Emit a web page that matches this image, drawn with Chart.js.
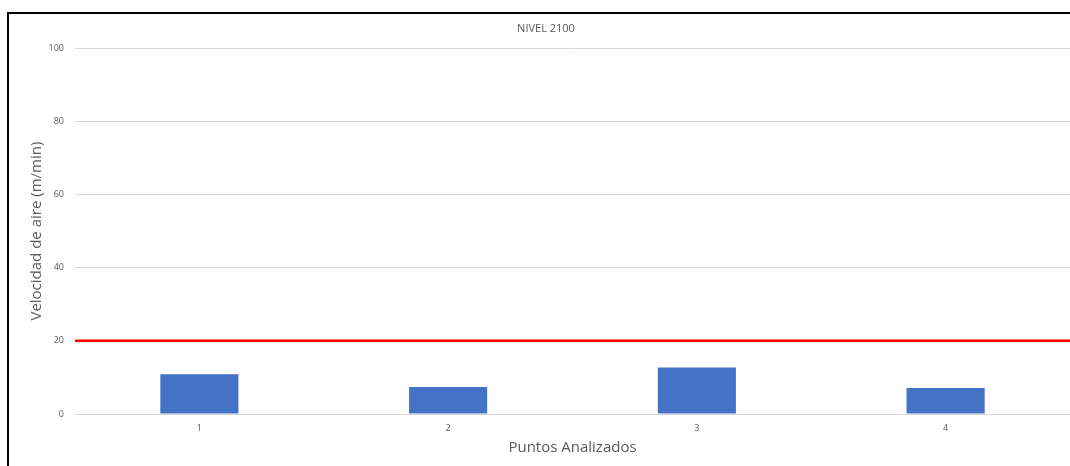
<!DOCTYPE html>
<html>
<head>
<meta charset="utf-8">
<script src="https://cdn.jsdelivr.net/npm/chart.js@4/dist/chart.umd.min.js"></script>
<style>
  html, body { margin: 0; padding: 0; background: #fff; }
  #wrap { position: relative; width: 1070px; height: 466px; overflow: hidden; }
  #marco { position: absolute; left: 7px; top: 12px; right: -10px; bottom: -10px;
           border-left: 2px solid #000; border-top: 2px solid #000; pointer-events: none; }
</style>
</head>
<body>
<div id="wrap">
  <canvas id="grafico" width="1070" height="466"></canvas>
  <div id="marco"></div>
</div>
<script>
// puntos medidos en el nivel 2100
let puntos = ['1', '2', '3', '4']
let velocidades = [10.9, 7.4, 12.7, 7.1]
// velocidad minima de referencia (m/min)
let limite = 20
let ticksY = [0, 20, 40, 60, 80, 100]

// la linea roja cruza todo el ancho del grafico
let lineaLimite = [
    { x: 0.5, y: limite },
    { x: puntos.length + 0.5, y: limite }
]

let gris = '#595959'

new Chart(document.getElementById('grafico'), {
    data: {
        labels: puntos,
        datasets: [{
            type: 'bar',
            data: velocidades,
            backgroundColor: '#4472C4',
            borderWidth: 0,
            grouped: false,
            categoryPercentage: 1,
            barPercentage: 0.314,
            order: 2
        }, {
            type: 'scatter',
            data: lineaLimite,
            xAxisID: 'xLim',
            showLine: true,
            borderColor: '#FF0000',
            borderWidth: 2.5,
            pointRadius: 0,
            order: 1
        }]
    },
    options: {
        responsive: false,
        animation: false,
        layout: { padding: { left: 22, right: 0, top: 0, bottom: 9 } },
        plugins: {
            legend: { display: false },
            tooltip: { enabled: false },
            title: {
                display: true,
                text: 'NIVEL 2100',
                color: gris,
                font: { family: 'Open Sans', size: 11, weight: 'normal' },
                padding: { top: 22, bottom: 13 }
            }
        },
        scales: {
            x: {
                type: 'category',
                offset: true,
                grid: { display: false },
                border: { display: false },
                ticks: { color: gris, font: { family: 'Open Sans', size: 9 }, padding: 1 },
                title: {
                    display: true,
                    text: 'Puntos Analizados',
                    color: gris,
                    font: { family: 'Open Sans', size: 15 },
                    padding: { top: 2, bottom: 0 }
                },
                afterFit: function (scale) { scale.height = 43 }
            },
            xLim: {
                type: 'linear',
                display: false,
                min: 0.5,
                max: puntos.length + 0.5
            },
            y: {
                min: 0,
                max: 100,
                afterBuildTicks: function (scale) {
                    scale.ticks = ticksY.map(v => ({ value: v }))
                },
                grid: { color: '#D9D9D9', drawTicks: false },
                border: { display: false },
                ticks: { color: gris, font: { family: 'Open Sans', size: 9 }, padding: 11 },
                title: {
                    display: true,
                    text: 'Velocidad de aire (m/min)',
                    color: gris,
                    font: { family: 'Open Sans', size: 15 },
                    padding: { top: 6, bottom: 0 }
                },
                afterFit: function (scale) { scale.width = 53 }
            }
        }
    }
});
</script>
</body>
</html>
